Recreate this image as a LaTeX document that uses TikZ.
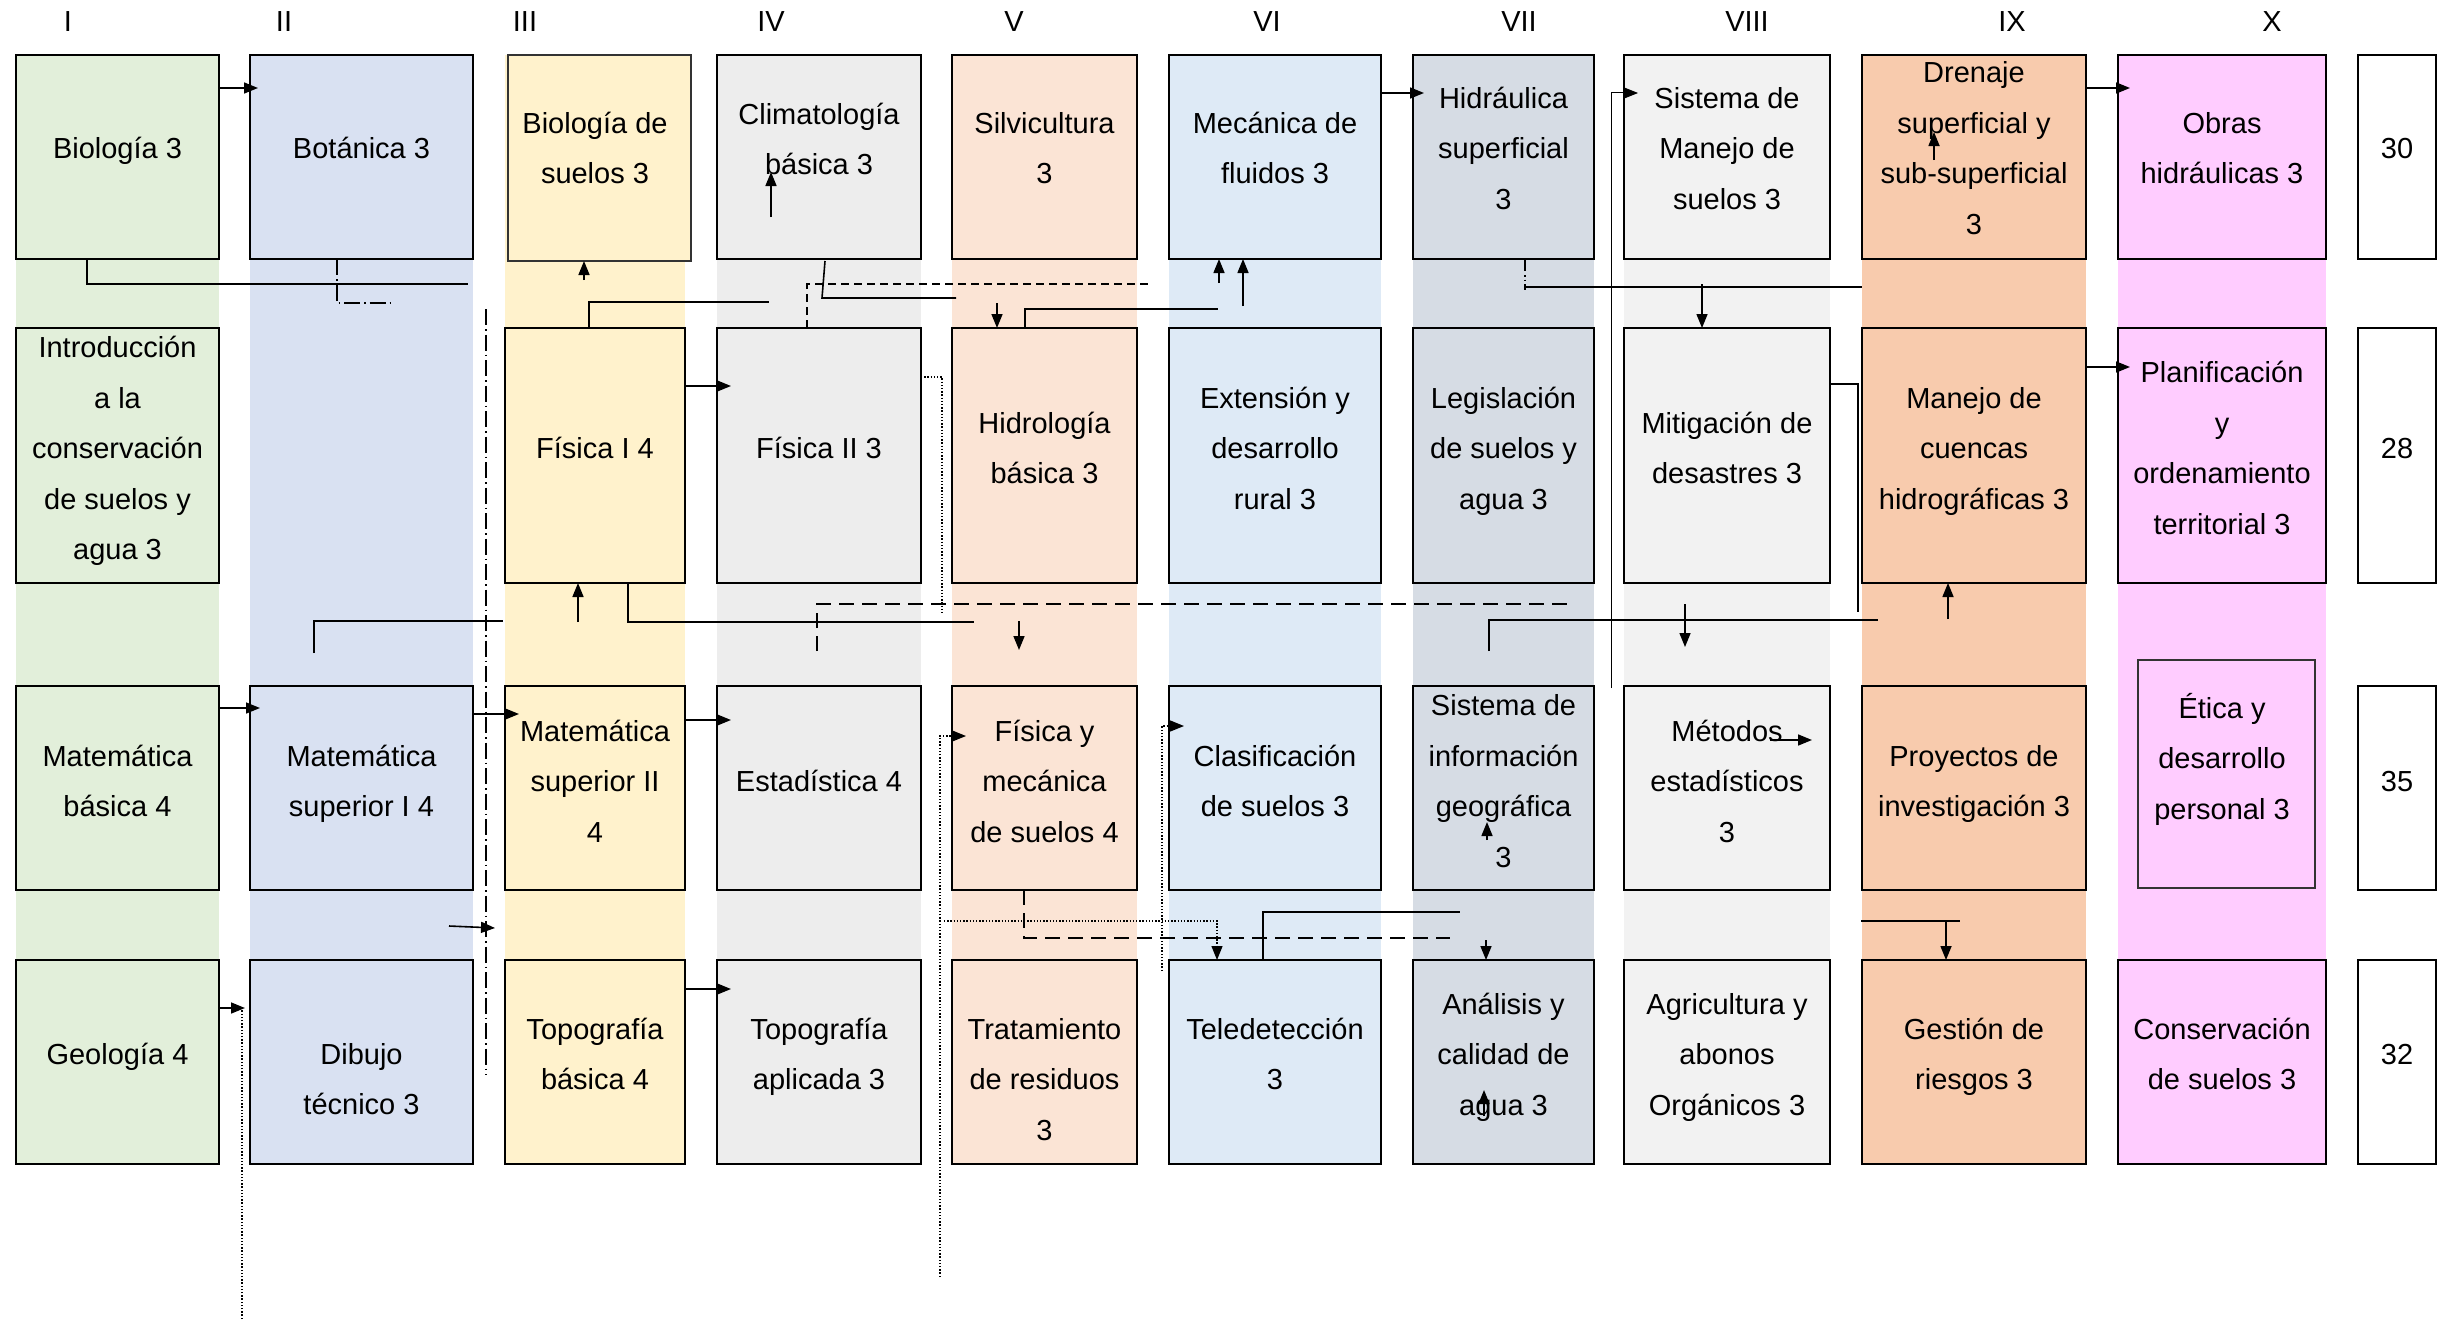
\documentclass[tikz,border=0pt]{standalone}
\usepackage{fontspec}
\setmainfont{Liberation Sans}
\usetikzlibrary{arrows.meta,calc}
\definecolor{cI}{HTML}{E2EFDA}
\definecolor{cII}{HTML}{D9E1F2}
\definecolor{cIII}{HTML}{FFF2CC}
\definecolor{cIV}{HTML}{EDEDED}
\definecolor{cV}{HTML}{FBE4D5}
\definecolor{cVI}{HTML}{DEEAF6}
\definecolor{cVII}{HTML}{D6DCE4}
\definecolor{cVIII}{HTML}{F2F2F2}
\definecolor{cIX}{HTML}{F8CBAD}
\definecolor{cX}{HTML}{FFCCFF}
\newcommand{\lstrut}{\rule[-6pt]{0pt}{33pt}}
\newcommand{\mkbox}[8]{%
  \node[cbox, fill=#6, minimum width={#4-#2}, minimum height={#5-#3}] (#1) at ({(#2+#4)/2},{(#3+#5)/2}) {};%
  \node[txt] (#1-t) at ({(#2+#4)/2},#7) {#8};%
}
\tikzset{
  cbox/.style={draw=black, line width=2pt, inner sep=0pt, outer sep=0pt},
  cboxthin/.style={draw=black!80, line width=1.5pt, inner sep=0pt, outer sep=0pt},
  txt/.style={font=\fontsize{29}{50.5}\selectfont, align=center, inner sep=0pt,
    execute at begin node=\lstrut, execute at end node=\lstrut},
  lbl/.style={font=\fontsize{29}{35}\selectfont, anchor=base, inner sep=0pt},
  ln/.style={line width=1.6pt},
  thinln/.style={line width=1pt},
  tip/.style={-{Triangle[length=14pt,width=11pt]}},
  arr/.style={line width=1.6pt, tip},
  dsh/.style={line width=1.6pt, dash pattern=on 8pt off 5pt},
  dshl/.style={line width=1.6pt, dash pattern=on 15pt off 8pt},
  dotln/.style={line width=1.3pt, dash pattern=on 1.4pt off 1.8pt},
  dotarr/.style={dotln, tip},
  dd/.style={line width=1.5pt, dash pattern=on 16pt off 4pt on 1.5pt off 4pt},
  ddd/.style={line width=1.5pt, dash pattern=on 12pt off 4pt on 1.5pt off 3pt on 1.5pt off 3pt},
}
\begin{document}
\begin{tikzpicture}[x=1pt,y=-1pt]
\useasboundingbox (0,0) rectangle (2448,1319);
\fill[white] (0,0) rectangle (2448,1319);
% column bands
\fill[cI]    (16,55)   rectangle (219,960);
\fill[cII]   (250,55)  rectangle (473,960);
\fill[cIII]  (505,55)  rectangle (685,960);
\fill[cIV]   (717,55)  rectangle (921,960);
\fill[cV]    (952,55)  rectangle (1137,960);
\fill[cVI]   (1169,55) rectangle (1381,960);
\fill[cVII]  (1413,55) rectangle (1594,960);
\fill[cVIII] (1624,55) rectangle (1830,960);
\fill[cIX]   (1862,55) rectangle (2086,960);
\fill[cX]    (2118,55) rectangle (2326,960);
% column labels
\node[lbl] (hI)    at (68,31.5)   {I};
\node[lbl] (hII)   at (284,31.5)  {II};
\node[lbl] (hIII)  at (525,31.5)  {III};
\node[lbl] (hIV)   at (771,31.5)  {IV};
\node[lbl] (hV)    at (1014,31.5) {V};
\node[lbl] (hVI)   at (1267,31.5) {VI};
\node[lbl] (hVII)  at (1519,31.5) {VII};
\node[lbl] (hVIII) at (1747,31.5) {VIII};
\node[lbl] (hIX)   at (2012,31.5) {IX};
\node[lbl] (hX)    at (2272,31.5) {X};
% row 1
\mkbox{bio}{16}{55}{219}{259}{cI}{148}{Biología 3}
\mkbox{bot}{250}{55}{473}{259}{cII}{148}{Botánica 3}
\node[cboxthin, fill=cIII, minimum width=183, minimum height=206] (biosu) at (599.5,158) {};
\node[txt] (biosu-t) at (595,151) {Biología de\\suelos 3};
\mkbox{clim}{717}{55}{921}{259}{cIV}{142}{Climatología\\básica 3}
\mkbox{silv}{952}{55}{1137}{259}{cV}{151}{Silvicultura\\3}
\mkbox{mecf}{1169}{55}{1381}{259}{cVI}{151}{Mecánica de\\fluidos 3}
\mkbox{hidr}{1413}{55}{1594}{259}{cVII}{151}{Hidráulica\\superficial\\3}
\mkbox{smane}{1624}{55}{1830}{259}{cVIII}{151}{Sistema de\\Manejo de\\suelos 3}
\mkbox{dren}{1862}{55}{2086}{259}{cIX}{151}{Drenaje\\superficial y\\sub-superficial\\3}
\mkbox{obras}{2118}{55}{2326}{259}{cX}{151}{Obras\\hidráulicas 3}
\mkbox{c30}{2358}{55}{2436}{259}{white}{148}{30}
% row 2
\mkbox{intro}{16}{328}{219}{583}{cI}{451}{Introducción\\a la\\conservación\\de suelos y\\agua 3}
\mkbox{fis1}{505}{328}{685}{583}{cIII}{448}{Física I 4}
\mkbox{fis2}{717}{328}{921}{583}{cIV}{448}{Física II 3}
\mkbox{hidro}{952}{328}{1137}{583}{cV}{451}{Hidrología\\básica 3}
\mkbox{ext}{1169}{328}{1381}{583}{cVI}{451}{Extensión y\\desarrollo\\rural 3}
\mkbox{leg}{1413}{328}{1594}{583}{cVII}{451}{Legislación\\de suelos y\\agua 3}
\mkbox{mit}{1624}{328}{1830}{583}{cVIII}{451}{Mitigación de\\desastres 3}
\mkbox{mcu}{1862}{328}{2086}{583}{cIX}{451}{Manejo de\\cuencas\\hidrográficas 3}
\mkbox{plan}{2118}{328}{2326}{583}{cX}{451}{Planificación\\y\\ordenamiento\\territorial 3}
\mkbox{c28}{2358}{328}{2436}{583}{white}{448}{28}
% row 3
\mkbox{matb}{16}{686}{219}{890}{cI}{784}{Matemática\\básica 4}
\mkbox{mat1}{250}{686}{473}{890}{cII}{784}{Matemática\\superior I 4}
\mkbox{mat2}{505}{686}{685}{890}{cIII}{784}{Matemática\\superior II\\4}
\mkbox{est}{717}{686}{921}{890}{cIV}{781}{Estadística 4}
\mkbox{fmec}{952}{686}{1137}{890}{cV}{784}{Física y\\mecánica\\de suelos 4}
\mkbox{clas}{1169}{686}{1381}{890}{cVI}{784}{Clasificación\\de suelos 3}
\mkbox{sig}{1413}{686}{1594}{890}{cVII}{784}{Sistema de\\información\\geográfica\\3}
\mkbox{met}{1624}{686}{1830}{890}{cVIII}{784}{Métodos\\estadísticos\\3}
\mkbox{proy}{1862}{686}{2086}{890}{cIX}{784}{Proyectos de\\investigación 3}
\node[cboxthin, fill=cX, minimum width=177, minimum height=228] (etica) at (2226.5,774) {};
\node[txt] (etica-t) at (2222,759) {Ética y\\desarrollo\\personal 3};
\mkbox{c35}{2358}{686}{2436}{890}{white}{781}{35}
% row 4
\mkbox{geo}{16}{960}{219}{1164}{cI}{1054}{Geología 4}
\mkbox{dib}{250}{960}{473}{1164}{cII}{1082}{Dibujo\\técnico 3}
\mkbox{topb}{505}{960}{685}{1164}{cIII}{1057}{Topografía\\básica 4}
\mkbox{topa}{717}{960}{921}{1164}{cIV}{1057}{Topografía\\aplicada 3}
\mkbox{trat}{952}{960}{1137}{1164}{cV}{1082}{Tratamiento\\de residuos\\3}
\mkbox{tele}{1169}{960}{1381}{1164}{cVI}{1057}{Teledetección\\3}
\mkbox{anal}{1413}{960}{1594}{1164}{cVII}{1057}{Análisis y\\calidad de\\agua 3}
\mkbox{agri}{1624}{960}{1830}{1164}{cVIII}{1057}{Agricultura y\\abonos\\Orgánicos 3}
\mkbox{gest}{1862}{960}{2086}{1164}{cIX}{1057}{Gestión de\\riesgos 3}
\mkbox{cons}{2118}{960}{2326}{1164}{cX}{1057}{Conservación\\de suelos 3}
\mkbox{c32}{2358}{960}{2436}{1164}{white}{1054}{32}
% coordinates for free ends
\coordinate (q1a) at (87,284);   \coordinate (q1b) at (468,284);
\coordinate (q2a) at (337,303);  \coordinate (q2b) at (390,303);
\coordinate (q3) at (584,280);
\coordinate (q4a) at (589,302);  \coordinate (q4b) at (769,302);
\coordinate (q5a) at (771,217);  \coordinate (q5b) at (771,172);
\coordinate (q6s) at (825,261);  \coordinate (q6a) at (822,298); \coordinate (q6b) at (956,298);
\coordinate (q7a) at (807,284);  \coordinate (q7b) at (1151,284);
\coordinate (q8) at (997,303);
\coordinate (q9a) at (1025,309); \coordinate (q9b) at (1218,309);
\coordinate (q10) at (1219,283);
\coordinate (q11) at (1243,306);
\coordinate (q12) at (1525,290);
\coordinate (q13) at (1525,287);
\coordinate (q14) at (1702,284);
\coordinate (q15a) at (1611,688); \coordinate (q15b) at (1611,93); \coordinate (q15c) at (1638,93);
\coordinate (q16a) at (486,309); \coordinate (q16b) at (486,1075);
\coordinate (q17s) at (314,653); \coordinate (q17a) at (314,621); \coordinate (q17b) at (503,621);
\coordinate (q18) at (578,622);
\coordinate (q19a) at (628,622); \coordinate (q19b) at (974,622);
\coordinate (q20s) at (817,651); \coordinate (q20a) at (817,604); \coordinate (q20b) at (1572,604);
\coordinate (q21a) at (942,377); \coordinate (q21b) at (942,614);
\coordinate (q22a) at (1019,621); \coordinate (q22b) at (1019,650);
\coordinate (q23s) at (1489,651); \coordinate (q23a) at (1489,620); \coordinate (q23b) at (1878,620);
\coordinate (q24a) at (1685,604); \coordinate (q24b) at (1685,647);
\coordinate (q25a) at (1858,384); \coordinate (q25b) at (1858,612);
\coordinate (q26) at (1948,619);
\coordinate (q27a) at (449,926); \coordinate (q27b) at (495,928);
\coordinate (q28s) at (940,1277); \coordinate (q28a) at (940,736); \coordinate (q28b) at (966,736);
\coordinate (q29s) at (944,921); \coordinate (q29a) at (1217,921);
\coordinate (q30s) at (1162,971); \coordinate (q30a) at (1162,726); \coordinate (q30b) at (1184,726);
\coordinate (q31a) at (1024,938); \coordinate (q31b) at (1450,938);
\coordinate (q32) at (1486,940);
\coordinate (q33a) at (1263,912); \coordinate (q33b) at (1460,912);
\coordinate (q34a) at (1861,921); \coordinate (q34b) at (1960,921);
\coordinate (q35) at (1946,921);
\coordinate (q36) at (258,88);
\coordinate (q37) at (731,386);
\coordinate (q38) at (1424,93);
\coordinate (q39) at (2130,88);
\coordinate (q40) at (2130,367);
\coordinate (q41a) at (1934,160); \coordinate (q41b) at (1934,132);
\coordinate (q42) at (260,708);
\coordinate (q43) at (519,714);
\coordinate (q44) at (731,720);
\coordinate (q45) at (245,1008);
\coordinate (q46a) at (242,1319); \coordinate (q46b) at (242,1010);
\coordinate (q47) at (731,989);
\coordinate (q48a) at (1770,740); \coordinate (q48b) at (1812,740);
\coordinate (q49a) at (1487,840); \coordinate (q49b) at (1487,822);
\coordinate (q50a) at (1484,1116); \coordinate (q50b) at (1484,1090);
% connectors
\draw[ln] (bio.south -| q1a) -- (q1a) -- (q1b);
\draw[dd] (bot.south -| q2a) -- (q2a) -- (q2b);
\draw[arr] (q3) -- (biosu.south -| q3);
\draw[ln] (fis1.north -| q4a) -- (q4a) -- (q4b);
\draw[arr] (q5a) -- (q5b);
\draw[ln] (q6s) -- (q6a) -- (q6b);
\draw[dsh] (fis2.north -| q7a) -- (q7a) -- (q7b);
\draw[arr] (q8) -- (hidro.north -| q8);
\draw[ln] (hidro.north -| q9a) -- (q9a) -- (q9b);
\draw[arr] (q10) -- (mecf.south -| q10);
\draw[arr] (q11) -- (mecf.south -| q11);
\draw[ddd] (hidr.south -| q12) -- (q12);
\draw[ln] (q13) -- (q13 -| dren.west);
\draw[arr] (q14) -- (mit.north -| q14);
\draw[thinln, tip] (q15a) -- (q15b) -- (q15c);
\draw[dd] (q16a) -- (q16b);
\draw[ln] (q17s) -- (q17a) -- (q17b);
\draw[arr] (q18) -- (fis1.south -| q18);
\draw[ln] (fis1.south -| q19a) -- (q19a) -- (q19b);
\draw[dshl] (q20s) -- (q20a) -- (q20b);
\draw[dotln] (fis2.east |- q21a) -- (q21a) -- (q21b);
\draw[arr] (q22a) -- (q22b);
\draw[ln] (q23s) -- (q23a) -- (q23b);
\draw[arr] (q24a) -- (q24b);
\draw[ln] (mit.east |- q25a) -- (q25a) -- (q25b);
\draw[arr] (q26) -- (mcu.south -| q26);
\draw[arr] (q27a) -- (q27b);
\draw[dotarr] (q28s) -- (q28a) -- (q28b);
\draw[dotarr] (q29s) -- (q29a) -- (tele.north -| q29a);
\draw[dotarr] (q30s) -- (q30a) -- (q30b);
\draw[dshl] (fmec.south -| q31a) -- (q31a) -- (q31b);
\draw[arr] (q32) -- (anal.north -| q32);
\draw[ln] (tele.north -| q33a) -- (q33a) -- (q33b);
\draw[ln] (q34a) -- (q34b);
\draw[arr] (q35) -- (gest.north -| q35);
\draw[arr] (bio.east |- q36) -- (q36);
\draw[arr] (fis1.east |- q37) -- (q37);
\draw[arr] (mecf.east |- q38) -- (q38);
\draw[arr] (dren.east |- q39) -- (q39);
\draw[arr] (mcu.east |- q40) -- (q40);
\draw[arr] (q41a) -- (q41b);
\draw[arr] (matb.east |- q42) -- (q42);
\draw[arr] (mat1.east |- q43) -- (q43);
\draw[arr] (mat2.east |- q44) -- (q44);
\draw[arr] (geo.east |- q45) -- (q45);
\draw[dotln] (q46a) -- (q46b);
\draw[arr] (topb.east |- q47) -- (q47);
\draw[arr] (q48a) -- (q48b);
\draw[arr] (q49a) -- (q49b);
\draw[arr] (q50a) -- (q50b);
\end{tikzpicture}
\end{document}
